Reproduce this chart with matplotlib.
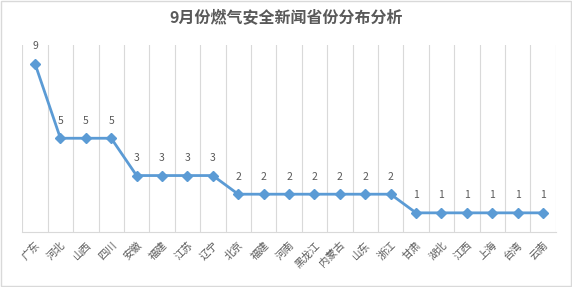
import matplotlib.pyplot as plt
import numpy as np

plt.rcParams['font.family'] = ['Noto Sans CJK SC', 'DejaVu Sans']

provinces = ['广东', '河北', '山西', '四川', '安徽', '福建', '江苏', '辽宁', '北京', '福建',
             '河南', '黑龙江', '内蒙古', '山东', '浙江', '甘肃', '湖北', '江西', '上海', '台湾', '云南']
counts = [9, 5, 5, 5, 3, 3, 3, 3, 2, 2, 2, 2, 2, 2, 2, 1, 1, 1, 1, 1, 1]

line_color = '#5B9BD5'
text_color = '#595959'

fig = plt.figure(figsize=(5.72, 2.87), dpi=100)
ax = fig.add_axes([22.3 / 572, 1 - 231.5 / 287, (555.7 - 22.3) / 572, (231.5 - 45) / 287])

x = np.arange(len(counts))
ax.plot(x, counts, color=line_color, linewidth=2, marker='D', markersize=5,
        markerfacecolor=line_color, markeredgecolor=line_color, zorder=3)

for xi, c in zip(x, counts):
    ax.annotate(str(c), (xi, c), xytext=(0, 9), textcoords='offset points',
                ha='center', va='bottom', fontsize=7.5, color=text_color)

ax.set_xlim(-0.5, len(counts) - 0.5)
ax.set_ylim(0, 10)

# vertical gridlines between categories
for b in np.arange(-0.5, len(counts), 1.0):
    ax.axvline(b, color='#D9D9D9', linewidth=0.8, zorder=1)

ax.set_xticks(x)
ax.set_xticklabels(provinces, rotation=45, ha='right', va='top', rotation_mode='anchor',
                   fontsize=7.5, color=text_color)
ax.tick_params(axis='x', length=0, pad=6)
ax.set_yticks([])
for side in ['top', 'left', 'right']:
    ax.spines[side].set_visible(False)
ax.spines['bottom'].set_color('#D9D9D9')

fig.text(0.5, 1 - 18 / 287, '9月份燃气安全新闻省份分布分析', ha='center', va='center',
         fontsize=11.5, fontweight='bold', color=text_color)

# outer border
fig.patches.append(plt.Rectangle((0.002, 0.004), 0.996, 0.992, transform=fig.transFigure,
                                 fill=False, edgecolor='#D9D9D9', linewidth=1))

fig.savefig('out.png', dpi=100)
